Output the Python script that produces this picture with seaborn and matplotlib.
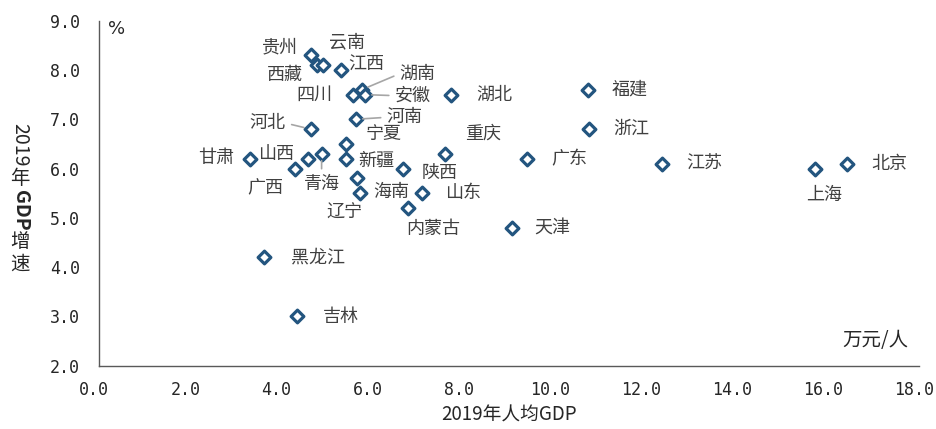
import pandas as pd
import seaborn as sns
import matplotlib.pyplot as plt
from matplotlib.transforms import ScaledTranslation

# 2019 per-capita GDP (10k yuan / person) and GDP growth (%) by province
provinces = ['贵州', '云南', '西藏', '江西', '湖南', '四川', '安徽', '河南', '河北', '宁夏',
             '新疆', '山西', '青海', '广西', '甘肃', '海南', '辽宁', '陕西', '山东', '内蒙古',
             '重庆', '湖北', '福建', '浙江', '广东', '天津', '江苏', '上海', '北京', '黑龙江', '吉林']
gdp_per_capita = [4.64, 4.78, 4.90, 5.30, 5.76, 5.56, 5.83, 5.63, 4.64, 5.41,
                  5.41, 4.58, 4.88, 4.29, 3.30, 5.65, 5.72, 6.66, 7.08, 6.77,
                  7.58, 7.73, 10.72, 10.76, 9.40, 9.05, 12.36, 15.72, 16.42, 3.61, 4.33]
gdp_growth = [8.3, 8.1, 8.1, 8.0, 7.6, 7.5, 7.5, 7.0, 6.8, 6.5,
              6.2, 6.2, 6.3, 6.0, 6.2, 5.8, 5.5, 6.0, 5.5, 5.2,
              6.3, 7.5, 7.6, 6.8, 6.2, 4.8, 6.1, 6.0, 6.1, 4.2, 3.0]

x_ticks = [0, 2, 4, 6, 8, 10, 12, 14, 16, 18]
y_ticks = [2, 3, 4, 5, 6, 7, 8, 9]

# label offsets in pixels (dx, dy) relative to each point
label_offsets = {
    '贵州': (-31, 8), '云南': (30, 23), '西藏': (-38, -10), '江西': (26, 5),
    '湖南': (56, 16), '四川': (-38, 0), '安徽': (48, -1), '河南': (49, 2),
    '河北': (-43, 6), '宁夏': (38, 10), '新疆': (31, -2), '山西': (-32, 5),
    '青海': (0, -30), '广西': (-29, -20), '甘肃': (-34, 1), '海南': (35, -14),
    '辽宁': (-15, -20), '陕西': (37, -5), '山东': (41, 0), '内蒙古': (26, -21),
    '重庆': (38, 20), '湖北': (43, 0), '福建': (42, 0), '浙江': (42, 0),
    '广东': (42, -1), '天津': (41, -1), '江苏': (42, 0), '上海': (9, -26),
    '北京': (42, 0), '黑龙江': (54, 0), '吉林': (44, -1),
}
# labels connected to their point by a thin grey leader line
leader = {'湖南': (0, 0.5), '安徽': (0, 0.5), '河南': (0, 0.5), '河北': (1, 0.5), '青海': (0.5, 1)}

df = pd.DataFrame({'province': provinces, 'gdp_pc': gdp_per_capita, 'growth': gdp_growth})

sns.set_style('white')
plt.rcParams['font.family'] = ['Noto Sans CJK SC', 'DejaVu Sans']

text_color = '#404040'
spine_color = '#595959'
marker_color = '#23557F'

fig = plt.figure(figsize=(9.37, 4.29), dpi=100)
ax = fig.add_axes([0.106, 0.1476, 0.875, 0.8041])

sns.scatterplot(data=df, x='gdp_pc', y='growth', ax=ax, marker='D', s=42,
                facecolor='white', edgecolor=marker_color, linewidth=2.3, zorder=3)

for name, xv, yv in zip(provinces, gdp_per_capita, gdp_growth):
    dx, dy = label_offsets[name]
    arrow = None
    if name in leader:
        arrow = dict(arrowstyle='-', color='#a6a6a6', lw=1.2,
                     relpos=leader[name], shrinkA=2, shrinkB=5)
    ax.annotate(name, xy=(xv, yv), xytext=(dx, dy), textcoords='offset pixels',
                ha='center', va='center', fontsize=13, color=text_color,
                arrowprops=arrow, zorder=4)

ax.set_xlim(0, 18)
ax.set_ylim(2, 9)
ax.set_xticks(x_ticks)
ax.set_yticks(y_ticks)
ax.set_xticklabels([f'{v:.1f}' for v in x_ticks], fontfamily='DejaVu Sans Mono', fontsize=12)
ax.set_yticklabels([f'{v:.1f}' for v in y_ticks], fontfamily='DejaVu Sans Mono', fontsize=12)
ax.tick_params(axis='both', which='major', direction='out', length=4, width=1,
               color=spine_color, labelcolor='#262626')
ax.tick_params(axis='x', pad=7)
ax.tick_params(axis='y', pad=10)

# x tick labels sit slightly left of their ticks in the original
shift = ScaledTranslation(-5 / 100, 0, fig.dpi_scale_trans)
for lab in ax.get_xticklabels():
    lab.set_transform(lab.get_transform() + shift)

for side in ['top', 'right']:
    ax.spines[side].set_visible(False)
for side in ['left', 'bottom']:
    ax.spines[side].set_color(spine_color)
    ax.spines[side].set_linewidth(1)

ax.set_xlabel('2019年人均GDP', fontsize=13.5, color='#262626', labelpad=4)
ax.set_ylabel('')

# unit labels
ax.text(0.021, 0.975, '%', transform=ax.transAxes, fontsize=13, color='#262626',
        ha='center', va='center', fontfamily='DejaVu Sans')
ax.text(0.947, 0.072, '万元/人', transform=ax.transAxes, fontsize=14, color='#262626',
        ha='center', va='center')

# vertical y-axis title: latin parts rotated, CJK parts upright, stacked top-down
W, H = 937, 429
renderer = fig.canvas.get_renderer()
top = 1 - 123 / H
for txt, rot in [('2019', -90), ('年', 0), ('GDP', -90), ('增', 0), ('速', 0)]:
    t = fig.text(20 / W, top, txt, rotation=rot, ha='center', va='top',
                 fontsize=14, color='#262626',
                 fontweight='bold' if txt == 'GDP' else 'normal')
    bb = t.get_window_extent(renderer)
    top = bb.y0 / H - 1 / H

plt.savefig('out.png', dpi=100)
